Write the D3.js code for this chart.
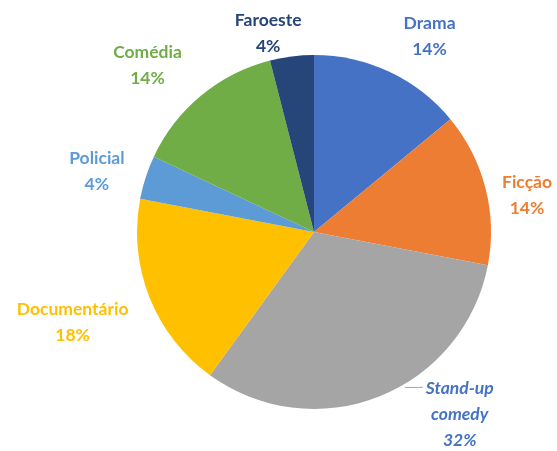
<!DOCTYPE html>
<html>
<head>
<meta charset="utf-8">
<script src="https://cdn.jsdelivr.net/npm/d3@7"></script>
<style>
  body { margin: 0; background: #fff; }
  svg text { font-family: Lato, "Open Sans", sans-serif; font-weight: bold; }
</style>
</head>
<body>
<div id="chart"></div>
<script>
'use strict';

// data (clockwise from 12 o'clock)
const categories = ["Drama", "Ficção", "Stand-up comedy", "Documentário", "Policial", "Comédia", "Faroeste"];
const values = [14, 14, 32, 18, 4, 14, 4];
const labelLines = [["Drama"], ["Ficção"], ["Stand-up", "comedy"], ["Documentário"], ["Policial"], ["Comédia"], ["Faroeste"]];

const sliceColors = ["#4472C4", "#ED7D31", "#A5A5A5", "#FFC000", "#5B9BD5", "#70AD47", "#264478"];
const textColors = ["#4472C4", "#ED7D31", "#4472C4", "#FFC000", "#5B9BD5", "#70AD47", "#264478"];

// layout
const width = 557, height = 451;
const cx = 314, cy = 232, radius = 177;
const labelRadius = 222;
const lineH = 26;
const fontSize = 17.5;
// manual nudges of the label blocks (like dragging them in the spreadsheet)
const labelNudge = [[21, 5], [-2, 18], [64, -25], [-35, 8], [-6, 7], [-25, 4], [-18, 21]];

const svg = d3.select("#chart").append("svg")
    .attr("width", width)
    .attr("height", height);

// the reference is a soft, slightly blurred picture
svg.append("defs").append("filter")
    .attr("id", "soft")
    .append("feGaussianBlur")
    .attr("stdDeviation", 0.6);

const g = svg.append("g")
    .attr("transform", `translate(${cx},${cy})`)
    .attr("filter", "url(#soft)");

const pie = d3.pie().sort(null).value(d => d);
const arcs = pie(values);

const arc = d3.arc().innerRadius(0).outerRadius(radius);
const labelArc = d3.arc().innerRadius(labelRadius).outerRadius(labelRadius);

g.selectAll("path.slice")
    .data(arcs)
    .enter()
    .append("path")
    .attr("class", "slice")
    .attr("d", arc)
    .attr("fill", (d, i) => sliceColors[i]);

const labelPos = arcs.map((d, i) => {
    let c = labelArc.centroid(d);
    return [c[0] + labelNudge[i][0], c[1] + labelNudge[i][1]];
});

const leader = g.append("line")
    .attr("stroke", "#A5A5A5")
    .attr("stroke-width", 1);

const labels = g.selectAll("text.lbl")
    .data(arcs)
    .enter()
    .append("text")
    .attr("class", "lbl")
    .attr("text-anchor", "middle")
    .attr("font-size", fontSize)
    .attr("fill", (d, i) => textColors[i])
    .attr("font-style", (d, i) => i == 2 ? "italic" : "normal")
    .attr("transform", (d, i) => `translate(${labelPos[i][0]},${labelPos[i][1]})`);

labels.each(function(d, i) {
    let lines = labelLines[i].concat([Math.round(d.value / d3.sum(values) * 100) + "%"]);
    let t = d3.select(this);
    lines.forEach((s, k) => {
        t.append("tspan")
            .attr("x", 0)
            .attr("y", (k - (lines.length - 1) / 2) * lineH)
            .attr("dy", "0.35em")
            .text(s);
    });
});

// leader line for the dragged stand-up label
{
    let i = 2;
    let first = labels.filter((d, k) => k == i).select("tspan").node();
    let nLines = labelLines[i].length + 1;
    let topY = labelPos[i][1] - (nLines - 1) * lineH / 2;
    let textLeft = labelPos[i][0] - first.getComputedTextLength() / 2 - 3;
    let edgeX = Math.sqrt(radius * radius - topY * topY);
    leader.attr("x1", edgeX + 6)
        .attr("y1", topY)
        .attr("x2", textLeft)
        .attr("y2", topY);
}
</script>
</body>
</html>
